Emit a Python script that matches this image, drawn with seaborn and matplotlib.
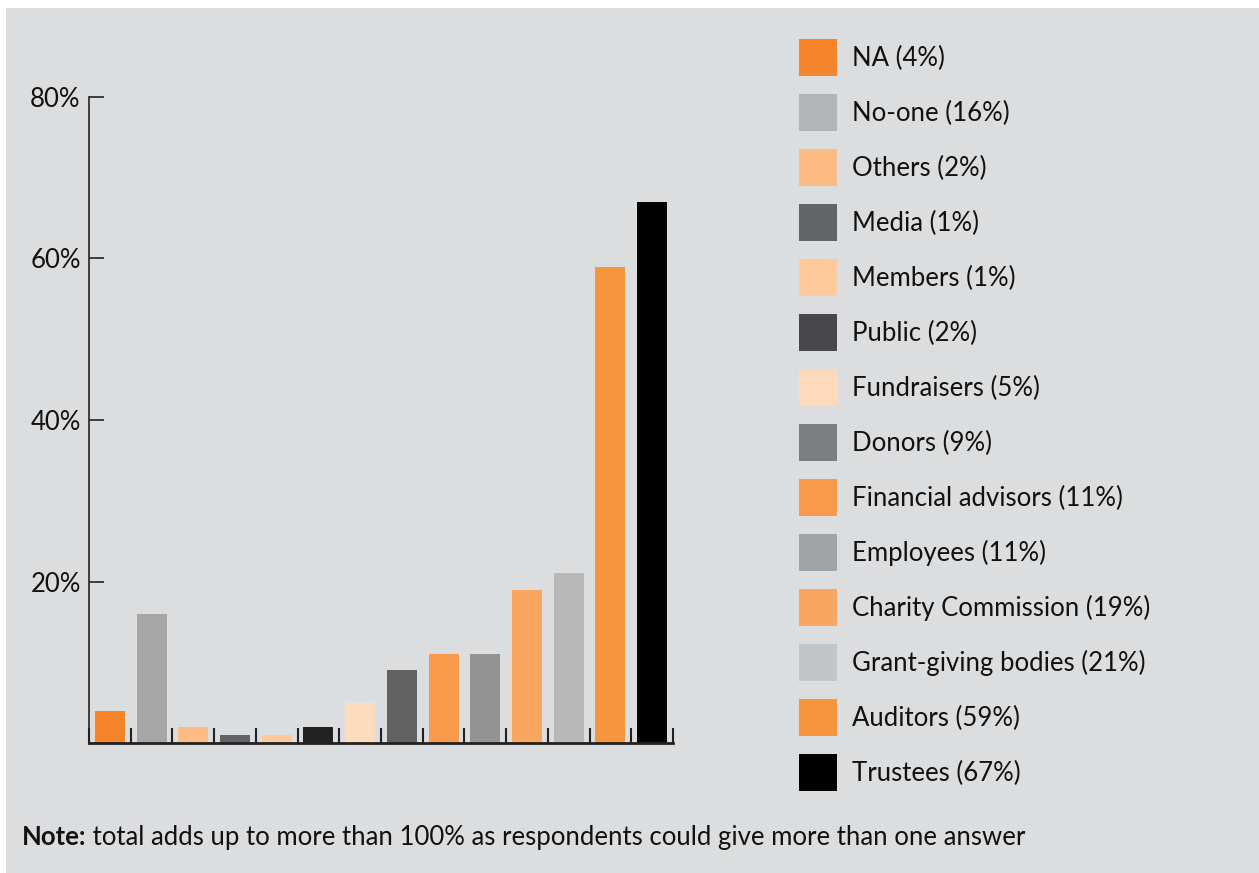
import matplotlib
matplotlib.use("Agg")
import matplotlib.pyplot as plt
import seaborn as sns
import numpy as np
from matplotlib.patches import Patch, Rectangle

categories = ["NA", "No-one", "Others", "Media", "Members", "Public", "Fundraisers",
              "Donors", "Financial advisors", "Employees", "Charity Commission",
              "Grant-giving bodies", "Auditors", "Trustees"]
values = [4, 16, 2, 1, 1, 2, 5, 9, 11, 11, 19, 21, 59, 67]
bar_colors = ["#f5852a", "#a6a6a6", "#fdbb84", "#626366", "#fec99a", "#222222", "#fddbbd",
              "#626262", "#f99a4a", "#939393", "#f8a660", "#b8b8b8", "#f7953f", "#000000"]
legend_colors = ["#f5852a", "#b3b4b6", "#fdbb84", "#636467", "#fec99b", "#48484a", "#fddabb",
                 "#7d7e80", "#f99a4a", "#a2a3a5", "#f8a660", "#c4c5c7", "#f7953f", "#000000"]
ytick_vals = [20, 40, 60, 80]
ytick_labels = ["20%", "40%", "60%", "80%"]
note_bold = "Note:"
note_text = " total adds up to more than 100% as respondents could give more than one answer"

BG = "#dcdddf"
sns.set_theme(style="white")
plt.rcParams['font.family'] = ['Lato', 'DejaVu Sans']

W, H = 1259, 873
fig = plt.figure(figsize=(W / 100, H / 100), dpi=100, facecolor="white")
fig.patches.append(Rectangle((6 / W, 0), 1, 1 - 8 / H, transform=fig.transFigure,
                             facecolor=BG, edgecolor="none", zorder=-10))

ax = fig.add_axes([89 / W, 1 - 743 / H, (673 - 89) / W, (743 - 97) / H])
ax.set_facecolor(BG)

sns.barplot(x=categories, y=values, hue=categories, palette=bar_colors, width=0.72,
            saturation=1, legend=False, ax=ax, order=categories, hue_order=categories,
            linewidth=0, edgecolor="none")

ax.set_xlim(-0.5, len(categories) - 0.5)
ax.set_ylim(0, 80)
ax.set_xlabel("")
ax.set_ylabel("")
ax.set_xticks([])
ax.set_xticks(np.arange(-0.5, len(categories), 1), minor=True)
ax.tick_params(axis="x", which="minor", direction="in", length=11, width=1.5,
               color="#222222", bottom=True)
ax.set_yticks(ytick_vals)
ax.set_yticklabels(ytick_labels, fontsize=18.5, color="#111111")
ax.tick_params(axis="y", which="major", direction="in", length=10.5, width=1.2,
               color="#222222", left=True, pad=6)
for s in ["top", "right"]:
    ax.spines[s].set_visible(False)
ax.spines["left"].set_color("#222222")
ax.spines["left"].set_linewidth(1.2)
ax.spines["bottom"].set_color("#222222")
ax.spines["bottom"].set_linewidth(2)

handles = [Patch(facecolor=c, edgecolor="none") for c in legend_colors]
labels = [f"{c} ({v}%)" for c, v in zip(categories, values)]
fig.legend(handles, labels, loc="upper left", bbox_to_anchor=(799 / W, 1 - 39 / H),
           frameon=False, fontsize=18.5, handlelength=1.48, handleheight=1.85,
           handletextpad=0.58, labelspacing=0.693, borderpad=0, borderaxespad=0,
           labelcolor="#111111")

t1 = fig.text(22 / W, 1 - 845 / H, note_bold, fontsize=18.5, fontweight="bold",
              va="baseline", ha="left", color="#111111")
fig.canvas.draw()
bb = t1.get_window_extent(renderer=fig.canvas.get_renderer())
fig.text(bb.x1 / W, 1 - 845 / H, note_text, fontsize=18.5, va="baseline", ha="left",
         color="#111111")

fig.savefig("out.png", dpi=100, facecolor="white")
